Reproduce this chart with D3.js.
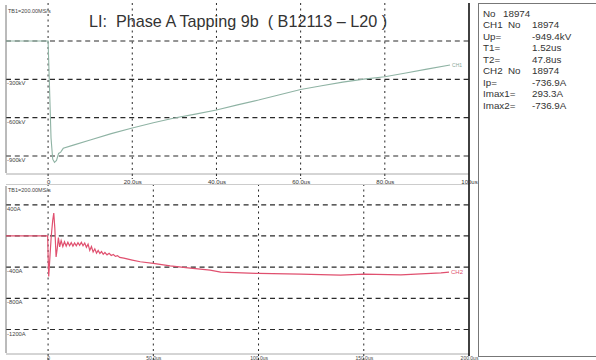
<!DOCTYPE html>
<html>
<head>
<meta charset="utf-8">
<script src="https://cdn.jsdelivr.net/npm/d3@7"></script>
<style>
  html, body { margin: 0; padding: 0; background: #fff; }
  svg { display: block; }
  text { font-family: "Liberation Sans", Arial, sans-serif; }
</style>
</head>
<body>
<svg id="chart" width="596" height="360"></svg>
<script>
// Channel 1: impulse voltage (kV) against time (us)
const voltTime = [-10, 0, 0.3, 0.7, 1.1, 1.52, 2.0, 2.5, 3.0, 3.6, 6, 10, 15, 20, 25, 30, 35, 40, 45, 50, 55, 60, 65, 70, 75, 80, 85, 90, 95.5];
const voltKV   = [0, 0, -320, -760, -925, -949.4, -935, -880, -870, -840, -815, -775, -725, -681, -640, -603, -572, -540, -500, -462, -420, -380, -350, -322, -298, -280, -250, -220, -188];

// Channel 2: neutral current (A) against time (us)
const currTime = [-20, -0.2, 0.0, 0.3, 0.8, 1.5, 2.2, 2.7, 3.2, 3.8, 4.4, 4.9, 5.5, 6.2, 7.0, 7.8, 8.6, 9.4, 10.2, 11.0, 11.8, 12.6, 13.4, 14.2, 15.0, 15.8, 16.6, 17.4, 18.2, 19.0, 19.8, 20.6, 21.4, 22.2, 23.0, 23.8, 24.6, 25.4, 26.2, 27.0, 28.0, 29.0, 30.0, 31, 32, 33, 34, 36, 38, 40, 43.8, 50, 58, 67.6, 77, 82, 100, 120, 139, 150, 167.6, 186.7, 190.5];
const currA    = [0, 0, -250, -520, -300, 0, 200, 293.3, 100, -270, -150, -20, -140, -60, -135, -75, -130, -80, -125, -85, -130, -90, -125, -85, -120, -80, -125, -90, -145, -105, -185, -135, -205, -165, -220, -185, -225, -200, -235, -212, -242, -222, -250, -238, -262, -252, -275, -285, -298, -310, -331, -352, -383, -413, -439, -464, -481, -490, -503, -490, -500, -473, -464];

// Axis ticks and labels
const topXTicks  = [0, 20, 40, 60, 80, 100];
const topXLabels = ["0", "20.0us", "40.0us", "60.0us", "80.0us", "100us"];
const topYGrid   = [0, -300, -600, -900];
const topYTicks  = [-300, -600, -900];
const topYLabels = ["-300kV", "-600kV", "-900kV"];

const botXTicks  = [0, 50, 100, 150, 200];
const botXLabels = ["0", "50.0us", "100.0us", "150.0us", "200.0us"];
const botYGrid   = [400, 0, -400, -800, -1200];
const botYTicks  = [400, -400, -800, -1200];
const botYLabels = ["400A", "-400A", "-800A", "-1200A"];

// Measurement readout
const infoLabels = ["No", "CH1", "Up=", "T1=", "T2=", "CH2", "Ip=", "Imax1=", "Imax2="];
const infoMid    = ["18974", "No", "", "", "", "No", "", "", ""];
const infoValues = ["", "18974", "-949.4kV", "1.52us", "47.8us", "18974", "-736.9A", "293.3A", "-736.9A"];

const title = "LI:  Phase A Tapping 9b  ( B12113 \u2013 L20 )";
const timebase = "TB1=200.00MS/s";

const svg = d3.select("#chart");

const left = 6, right = 469;
const xTop = d3.scaleLinear().domain([-10, 100]).range([left, right]);
const yTop = d3.scaleLinear().domain([282, -1041]).range([5, 174]);
const xBot = d3.scaleLinear().domain([-20, 200]).range([left, right]);
const yBot = d3.scaleLinear().domain([641, -1514]).range([186, 354]);

const gridColor = "#2a2a2a";
const labelColor = "#444";

function drawPanel(x, y, xTicks, yGrid, top, bottom) {
  const g = svg.append("g");
  // horizontal dashed grid
  g.selectAll("line.h").data(yGrid).join("line")
    .attr("x1", left).attr("x2", right)
    .attr("y1", d => y(d)).attr("y2", d => y(d))
    .attr("stroke", gridColor).attr("stroke-width", 1.2)
    .attr("stroke-dasharray", "5,3.8");
  // vertical dotted grid
  g.selectAll("line.v").data(xTicks.slice(0, -1)).join("line")
    .attr("x1", d => x(d)).attr("x2", d => x(d))
    .attr("y1", top - 2).attr("y2", bottom)
    .attr("stroke", gridColor).attr("stroke-width", 1)
    .attr("stroke-dasharray", "2,3.5");
  // frame: left and bottom in light gray
  g.append("line").attr("x1", left).attr("x2", left).attr("y1", top).attr("y2", bottom - 1)
    .attr("stroke", "#777").attr("stroke-width", 1);
  g.append("line").attr("x1", left).attr("x2", right).attr("y1", bottom).attr("y2", bottom)
    .attr("stroke", "#aaa").attr("stroke-width", 1);
  return g;
}

drawPanel(xTop, yTop, topXTicks, topYGrid, 5, 174);
drawPanel(xBot, yBot, botXTicks, botYGrid, 186, 354);

// vertical grid marks extending past the panels
svg.selectAll("line.ext").data(topXTicks.slice(0, -1)).join("line")
  .attr("x1", d => xTop(d)).attr("x2", d => xTop(d)).attr("y1", 174).attr("y2", 179)
  .attr("stroke", gridColor).attr("stroke-dasharray", "2,2");
svg.selectAll("line.ext2").data(botXTicks.slice(0, -1)).join("line")
  .attr("x1", d => xBot(d)).attr("x2", d => xBot(d)).attr("y1", 354).attr("y2", 360)
  .attr("stroke", gridColor).attr("stroke-dasharray", "2,2");

// separator under the top time labels
svg.append("line").attr("x1", left).attr("x2", right).attr("y1", 184.5).attr("y2", 184.5)
  .attr("stroke", "#ccc").attr("stroke-width", 1);

// thick right border shared by both panels
svg.append("line").attr("x1", right).attr("x2", right).attr("y1", 3).attr("y2", 356)
  .attr("stroke", "#111").attr("stroke-width", 1.6);

// info box
svg.append("rect").attr("x", 478.5).attr("y", 3.5).attr("width", 120).attr("height", 353)
  .attr("fill", "none").attr("stroke", "#777").attr("stroke-width", 1);

// traces
const voltLine = d3.line().x((d, i) => xTop(voltTime[i])).y(d => yTop(d));
svg.append("path").attr("d", voltLine(voltKV))
  .attr("fill", "none").attr("stroke", "#8fb3a4").attr("stroke-width", 1.1);

const currLine = d3.line().x((d, i) => xBot(currTime[i])).y(d => yBot(d));
svg.append("path").attr("d", currLine(currA))
  .attr("fill", "none").attr("stroke", "#e0506f").attr("stroke-width", 1.2);

// channel tags at the end of each trace
svg.append("text").attr("x", xTop(voltTime[voltTime.length - 1]) + 2).attr("y", yTop(voltKV[voltKV.length - 1]) + 1.5)
  .attr("font-size", 5).attr("fill", "#8aa89a").text("CH1");
svg.append("text").attr("x", xBot(currTime[currTime.length - 1]) + 2).attr("y", yBot(currA[currA.length - 1]) + 2)
  .attr("font-size", 6).attr("fill", "#e0506f").text("CH2");

// timebase notes
svg.append("text").attr("x", 8).attr("y", 13).attr("font-size", 5.5).attr("fill", labelColor).text(timebase);
svg.append("text").attr("x", 8).attr("y", 192).attr("font-size", 5.5).attr("fill", labelColor).text(timebase);

// title
svg.append("text").attr("x", 238).attr("y", 27).attr("text-anchor", "middle")
  .attr("font-size", 16.2).attr("fill", "#333").attr("xml:space", "preserve")
  .style("white-space", "pre").text(title);

// y labels (placed just under their grid lines)
svg.append("g").selectAll("text").data(topYTicks).join("text")
  .attr("x", 7).attr("y", d => yTop(d) + 6)
  .attr("font-size", 5.8).attr("fill", labelColor)
  .text((d, i) => topYLabels[i]);
svg.append("g").selectAll("text").data(botYTicks).join("text")
  .attr("x", 7).attr("y", d => yBot(d) + 6)
  .attr("font-size", 5.8).attr("fill", labelColor)
  .text((d, i) => botYLabels[i]);

// time labels through d3 axes
const topAxis = d3.axisBottom(xTop).tickValues(topXTicks).tickSize(0)
  .tickFormat((d, i) => topXLabels[i]);
const gTopAxis = svg.append("g").attr("transform", "translate(0,177)").call(topAxis);
gTopAxis.select(".domain").remove();
gTopAxis.selectAll("text").attr("font-size", 6).attr("fill", "#333")
  .attr("font-family", "Liberation Sans, Arial, sans-serif");

const botAxis = d3.axisBottom(xBot).tickValues(botXTicks).tickSize(0)
  .tickFormat((d, i) => botXLabels[i]);
const gBotAxis = svg.append("g").attr("transform", "translate(0,353.5)").call(botAxis);
gBotAxis.select(".domain").remove();
gBotAxis.selectAll("text").attr("font-size", 5).attr("fill", labelColor)
  .attr("font-family", "Liberation Sans, Arial, sans-serif");

// info text
const rowY = d3.scaleLinear().domain([0, 8]).range([16.5, 109]);
const info = svg.append("g").attr("font-size", 9.8).attr("fill", "#333");
infoLabels.forEach((lab, i) => {
  info.append("text").attr("x", 483).attr("y", rowY(i)).text(lab);
  if (infoMid[i]) info.append("text").attr("x", i === 0 ? 503 : 508).attr("y", rowY(i)).text(infoMid[i]);
  if (infoValues[i]) info.append("text").attr("x", 532).attr("y", rowY(i)).text(infoValues[i]);
});
</script>
</body>
</html>
